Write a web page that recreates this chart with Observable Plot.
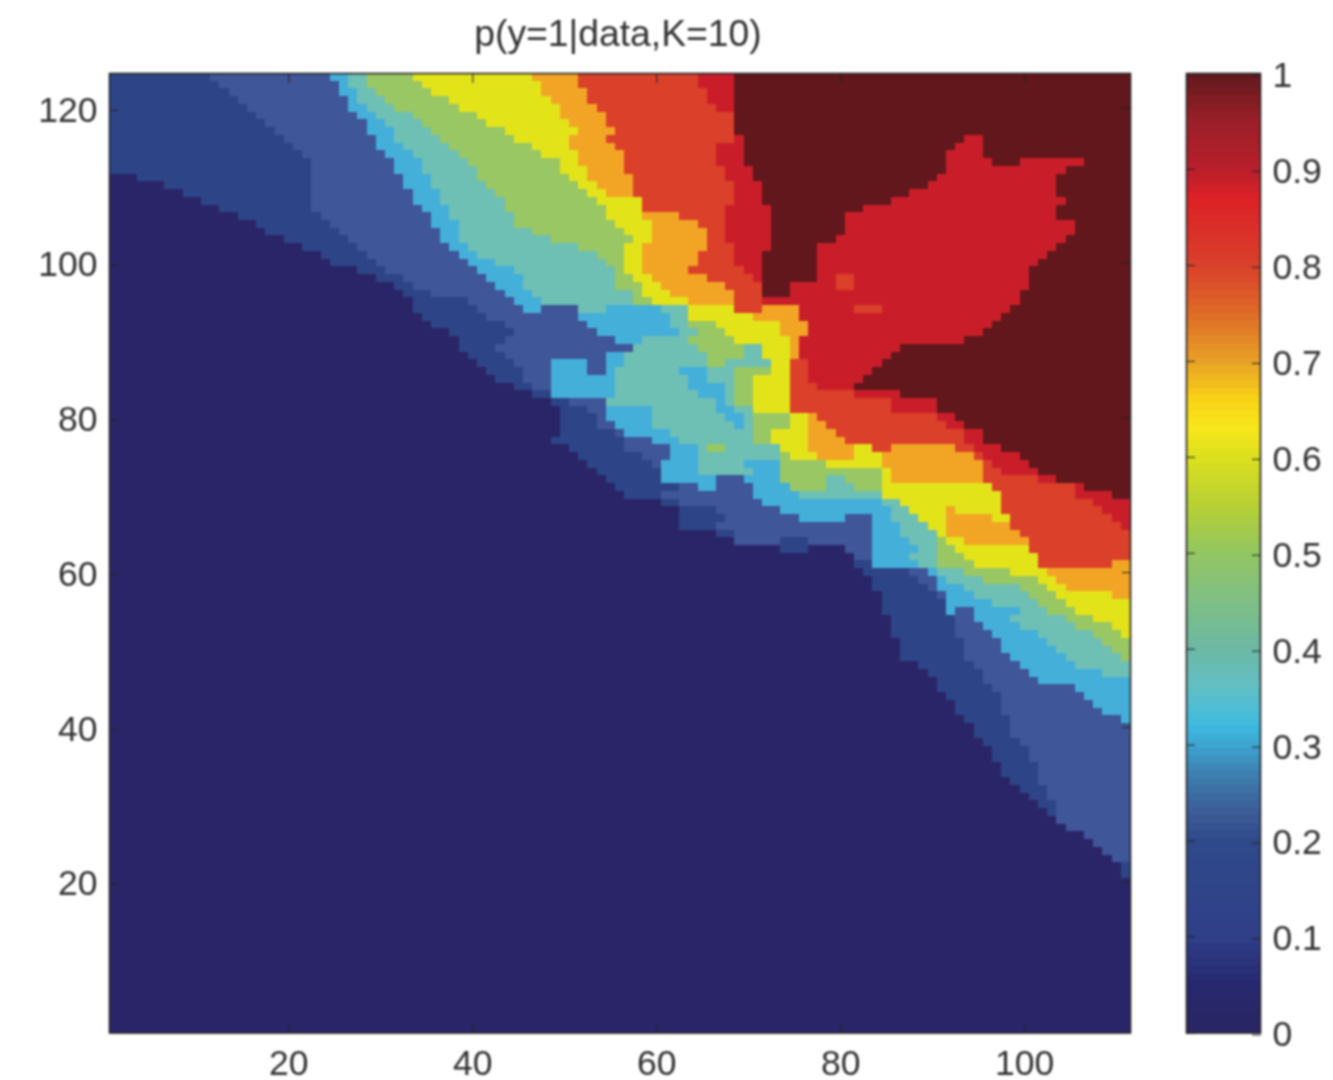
<!DOCTYPE html>
<html>
<head>
<meta charset="utf-8">
<script src="https://cdn.jsdelivr.net/npm/d3@7"></script>
<script src="https://cdn.jsdelivr.net/npm/@observablehq/plot@0.6"></script>
<style>
  html,body{margin:0;padding:0;background:#fff;}
  #wrap{position:relative;width:1333px;height:1080px;overflow:hidden;filter:blur(1px);font-family:"Liberation Sans",Arial,sans-serif;color:#333;}
  #wrap svg{position:absolute;top:0;background:transparent;}
  #title{position:absolute;left:0;width:1236px;top:12px;text-align:center;font-size:37.3px;line-height:42px;color:#333;}
</style>
</head>
<body>
<div id="wrap"><div id="title">p(y=1|data,K=10)</div></div>
<script>
const xTicks = [20,40,60,80,100];
const yTicks = [20,40,60,80,100,120];
const barTicks = [0,0.1,0.2,0.3,0.4,0.5,0.6,0.7,0.8,0.9,1];
const levels = [0,1,2,3,4,5,6,7,8,9,10];
const levelColors = ["#2a2569","#2d4587","#3f5699","#44afd9","#6ebfb4","#99c763","#e3e31a","#f2a525","#db402a","#c91e2a","#61171b"];
const barStops = [0,0.05,0.1,0.2,0.23,0.27,0.3,0.32,0.36,0.4,0.45,0.5,0.55,0.6,0.63,0.66,0.7,0.75,0.8,0.87,0.9,0.95,1];
const barColors = ["#2a2563","#27286f","#2f3f88","#2f4a8a","#3c5d97","#3d7fb0","#3da5d0","#3ebae0","#62c0c5","#6cb8a4","#7fbf85","#92c662","#b8d033","#dce01e","#f8e71c","#f8d216","#e8a027","#de6a27","#d9402b","#dc2127","#b81f2c","#9a1f28","#5e1a1d"];
const rowTop = 124.5;
const rowStep = 1;
// each row, top to bottom: first level, then (start column, level) pairs, left to right
const rows = [
[1,12,2,25,3,27,4,29,5,34,6,47,7,52,8,65,9,69,10],
[1,13,2,26,3,27,4,29,5,35,6,48,7,52,8,65,9,69,10],
[1,14,2,26,3,28,4,30,5,36,6,48,7,53,8,66,9,69,10],
[1,15,2,27,3,28,4,31,5,38,6,49,7,53,8,66,9,69,10],
[1,16,2,27,3,29,4,32,5,39,6,50,7,54,8,67,9,69,10],
[1,17,2,28,3,30,4,34,5,41,6,50,7,55,8,69,10],
[1,18,2,29,3,31,4,35,5,42,6,51,7,55,8,69,10],
[1,19,2,29,3,32,4,36,5,44,6,52,7,56,8,69,10],
[1,20,2,30,3,32,4,37,5,45,6,51,7,55,8,69,9,70,10,94,9,96,10],
[1,21,2,30,3,33,4,38,5,47,6,51,7,56,8,67,9,70,10,93,9,96,10],
[1,22,2,31,3,34,4,39,5,48,6,52,7,57,8,67,9,70,10,92,9,96,10],
[1,23,2,32,3,35,4,40,5,50,6,52,7,57,8,67,9,70,10,92,9,97,10,100,9,107,10],
[1,23,2,32,3,35,4,41,5,50,6,53,7,57,8,68,9,71,10,92,9,105,10],
[0,4,1,23,2,33,3,36,4,41,5,51,6,53,7,58,8,68,9,71,10,91,9,104,10],
[0,7,1,23,2,33,3,36,4,42,5,52,6,54,7,58,8,69,9,72,10,90,9,104,10],
[0,9,1,23,2,34,3,37,4,43,5,53,6,55,7,58,8,69,9,72,10,88,9,104,10],
[0,11,1,23,2,34,3,37,4,44,5,54,6,59,8,69,9,72,10,86,9,105,10],
[0,13,1,23,2,35,3,38,4,44,5,55,6,59,8,68,9,73,10,83,9,104,10],
[0,15,1,24,2,36,3,38,4,45,5,55,6,59,7,63,8,68,9,73,10,81,9,104,10],
[0,17,1,25,2,36,3,39,4,45,5,56,6,60,7,65,8,68,9,73,10,81,9,106,10],
[0,18,1,26,2,37,3,39,4,47,5,57,6,60,7,66,8,68,9,73,10,81,9,106,10],
[0,20,1,27,2,37,3,39,4,49,5,58,6,60,7,66,8,68,9,73,10,80,9,105,10],
[0,22,1,28,2,38,3,40,4,52,5,57,6,59,7,66,8,69,9,73,10,78,9,104,10],
[0,24,1,29,2,39,3,41,4,54,5,57,6,59,7,65,8,69,9,72,10,78,9,103,10],
[0,25,1,30,2,40,3,43,4,55,5,57,6,59,7,65,8,69,9,72,10,78,9,102,10],
[0,28,1,31,2,41,3,45,4,56,5,57,6,59,7,64,8,70,9,72,10,78,9,101,10],
[0,30,1,33,2,42,3,46,4,56,5,58,6,60,7,66,8,71,9,72,10,78,9,80,8,82,9,101,10],
[0,32,1,34,2,43,3,46,4,56,5,59,6,61,7,68,8,72,10,75,9,80,8,82,9,101,10],
[0,33,1,36,2,44,3,47,4,58,5,59,6,62,7,69,8,72,10,75,9,100,10],
[0,34,1,40,2,45,3,48,4,58,5,60,6,64,7,69,8,72,9,100,10],
[0,34,1,41,2,46,3,48,2,52,4,55,3,61,4,64,6,69,8,72,7,76,9,82,8,85,9,99,10],
[0,35,1,42,2,52,3,62,4,64,6,71,7,76,9,98,10],
[0,36,1,44,2,53,3,62,4,64,5,67,6,74,7,77,9,97,10],
[0,38,1,45,2,54,3,63,4,65,5,68,6,74,7,77,9,96,10],
[0,39,1,44,2,56,3,59,4,64,5,69,6,75,7,76,9,94,10],
[0,39,1,43,2,58,4,65,5,70,4,72,6,75,7,76,9,87,10],
[0,40,1,44,2,55,3,57,4,66,5,70,4,72,6,75,7,76,9,86,10],
[0,41,1,45,2,49,3,53,2,55,3,57,4,66,5,68,4,73,6,75,8,77,9,85,10],
[0,42,1,46,2,49,3,53,2,55,3,56,4,63,3,66,4,69,5,73,6,75,8,77,9,84,10],
[0,43,1,46,2,49,3,56,4,64,3,66,4,69,5,71,6,75,8,77,9,83,10],
[0,45,1,47,2,49,3,56,4,64,3,68,4,69,5,71,6,75,8,78,9,82,10],
[0,47,1,49,3,56,4,65,3,68,4,69,5,71,6,75,8,82,9,87,10],
[0,49,1,51,2,55,4,67,3,68,4,69,5,71,6,75,8,86,9,91,10],
[0,50,1,53,2,55,3,60,4,67,3,69,4,71,6,75,8,86,9,91,10],
[0,50,1,54,2,55,3,60,4,68,3,70,4,71,5,75,6,77,7,78,8,91,9,93,10],
[0,50,1,54,2,56,3,60,4,69,3,70,4,71,5,75,6,77,7,79,8,92,9,94,10],
[0,50,1,56,2,57,3,62,4,71,5,73,6,77,7,80,8,94,9,96,10],
[0,49,1,57,2,60,3,63,4,71,5,73,6,77,7,81,8,94,9,96,10],
[0,51,1,57,2,62,3,65,4,66,5,68,4,74,6,77,7,82,6,84,8,86,7,93,8,95,9,98,10],
[0,52,1,59,2,62,3,65,4,74,5,75,6,78,7,82,6,85,7,95,8,96,9,100,10],
[0,53,1,60,2,61,3,65,4,70,3,74,5,79,6,85,7,96,8,97,9,101,10],
[0,54,1,61,3,65,4,71,3,74,5,85,6,86,7,96,8,98,9,102,10],
[0,55,1,61,3,67,2,70,3,74,5,79,4,81,5,85,6,86,7,96,8,102,9,104,10],
[0,56,1,63,2,65,3,67,2,71,3,75,5,79,4,82,5,85,6,97,8,106,9,107,10],
[0,57,1,61,2,71,3,76,4,85,6,98,8,106,9,110,10],
[0,61,1,63,2,72,3,85,4,87,6,98,8,108,9],
[0,63,1,67,2,74,3,86,4,88,6,92,7,93,6,98,8,109,9],
[0,63,1,68,2,76,3,81,2,84,3,86,4,89,6,92,7,97,6,99,8,110,9],
[0,63,1,67,2,84,3,87,4,90,6,92,7,99,8,111,9],
[0,67,1,69,2,84,3,87,4,91,6,92,7,100,8],
[0,69,2,74,1,77,2,84,3,88,4,91,5,92,6,94,7,101,8],
[0,74,1,77,0,81,2,84,3,89,4,91,5,93,6,101,8],
[0,82,2,84,3,88,4,91,5,94,6,102,8],
[0,82,1,84,3,89,4,91,5,95,6,102,8,110,7],
[0,83,1,88,2,90,3,91,4,94,5,99,6,103,7],
[0,84,1,89,2,91,3,92,4,96,5,102,6,104,7],
[0,84,1,90,2,91,3,94,4,100,5,103,6,105,7],
[0,85,1,91,2,92,3,95,4,101,5,104,6,110,7],
[0,85,1,92,3,97,4,102,5,105,6],
[0,85,1,92,3,93,2,95,3,100,4,103,5,106,6],
[0,86,1,93,2,95,3,99,4,105,5,108,6],
[0,86,1,93,2,96,3,100,4,106,5,110,6],
[0,86,1,93,2,97,3,102,4,108,5,111,6],
[0,87,1,94,2,98,3,103,4,109,5],
[0,87,1,94,2,98,3,104,4,110,5],
[0,87,1,94,2,99,3,105,4,111,5],
[0,89,1,95,2,100,3,106,4],
[0,90,1,96,2,101,3,109,4],
[0,91,1,96,2,102,3],
[0,91,1,97,2,106,3],
[0,92,1,98,2,107,3],
[0,93,1,98,2,108,3],
[0,93,1,98,2,109,3],
[0,94,1,99,2,111,3],
[0,95,1,99,2],
[0,95,1,99,2],
[0,96,1,100,2],
[0,97,1,101,2],
[0,97,1,101,2],
[0,98,1,102,2],
[0,98,1,102,2],
[0,99,1,102,2],
[0,100,1,103,2],
[0,101,1,103,2],
[0,102,1,104,2],
[0,103,1,104,2],
[0,104,2],
[0,105,2],
[0,107,2],
[0,108,2],
[0,109,2],
[0,110,2],
[0,111,1],
[0,111,1]
];
const xEnd = 111.5, yStart = 0.5;

const cells = [{x1:0.5,x2:xEnd,y1:yStart,y2:rowTop,level:0}];
rows.forEach((r,i)=>{
  const y2 = rowTop - i*rowStep, y1 = y2 - rowStep;
  let start = 0.5, lev = r[0];
  for(let j=1;j<r.length;j+=2){
    const end = r[j]-0.5;
    cells.push({x1:start,x2:end,y1,y2,level:lev});
    start = end; lev = r[j+1];
  }
  cells.push({x1:start,x2:xEnd,y1,y2,level:lev});
});

const fs = 35.5, ink = "#333";
const main = Plot.plot({
  width:1333,height:1080,marginLeft:109,marginRight:203,marginTop:73,marginBottom:47.5,
  style:{fontFamily:"'Liberation Sans',Arial,sans-serif",color:ink,background:"transparent",overflow:"visible"},
  x:{domain:[0.5,xEnd],label:null},
  y:{domain:[yStart,rowTop],label:null},
  color:{type:"ordinal",domain:levels,range:levelColors},
  marks:[
    Plot.rect(cells,{x1:"x1",x2:"x2",y1:"y1",y2:"y2",fill:"level",shapeRendering:"crispEdges"}),
    Plot.frame({stroke:"#222",strokeWidth:1.6}),
    Plot.axisX({anchor:"bottom",ticks:xTicks,tickSize:-9,tickPadding:26,fontSize:fs,stroke:"#222",color:ink,label:null}),
    Plot.axisX({anchor:"top",ticks:xTicks,tickSize:-9,tickFormat:()=>"",stroke:"#222",label:null}),
    Plot.axisY({anchor:"left",ticks:yTicks,tickSize:-9,tickPadding:21,fontSize:fs,dy:2,stroke:"#222",color:ink,label:null}),
    Plot.axisY({anchor:"right",ticks:yTicks,tickSize:-9,tickFormat:()=>"",stroke:"#222",label:null})
  ]
});
main.style.left="0px";
document.getElementById("wrap").appendChild(main);

const nBar = 128;
const barCells = d3.range(nBar).map(i=>({y1:i/nBar,y2:(i+1)/nBar,mid:(i+0.5)/nBar}));
const bar = Plot.plot({
  width:148,height:1080,marginLeft:1,marginRight:73,marginTop:73,marginBottom:47.5,
  style:{fontFamily:"'Liberation Sans',Arial,sans-serif",color:ink,background:"transparent",overflow:"visible"},
  x:{axis:null},
  y:{domain:[0,1],label:null},
  color:{type:"linear",domain:barStops,range:barColors},
  marks:[
    Plot.rect(barCells,{y1:"y1",y2:"y2",fill:"mid",shapeRendering:"crispEdges"}),
    Plot.frame({stroke:"#222",strokeWidth:1.6}),
    Plot.axisY({anchor:"right",ticks:barTicks,tickSize:-9,tickPadding:21,fontSize:fs,dy:2,stroke:"#222",color:ink,tickFormat:d=>String(d),label:null}),
    Plot.axisY({anchor:"left",ticks:barTicks,tickSize:-9,tickFormat:()=>"",stroke:"#222",label:null})
  ]
});
bar.style.left="1185px";
document.getElementById("wrap").appendChild(bar);
</script>
</body>
</html>
